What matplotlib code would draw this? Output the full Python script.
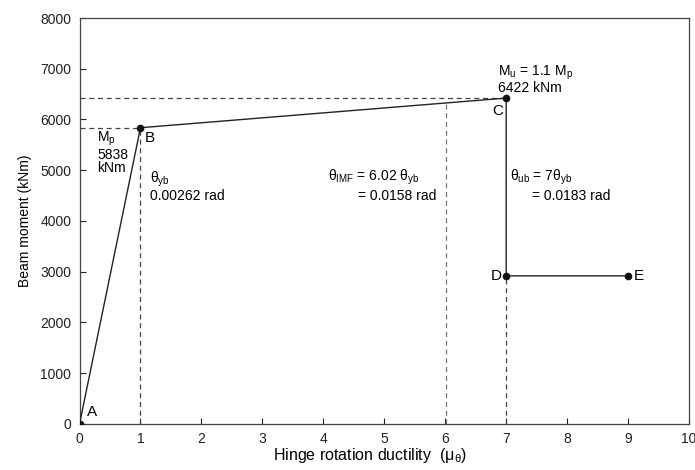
import matplotlib as mpl
mpl.use("Agg")
import matplotlib.pyplot as plt

plt.rcParams["font.family"] = ["Liberation Sans", "DejaVu Sans"]
plt.rcParams["font.size"] = 10
plt.rcParams["mathtext.fontset"] = "custom"
plt.rcParams["mathtext.rm"] = "Liberation Sans"
plt.rcParams["mathtext.it"] = "Liberation Serif:italic"

# backbone curve points A-B-C-D-E
pt_labels = ["A", "B", "C", "D", "E"]
ductility = [0, 1, 7, 7, 9]
moment = [0, 5838, 6422, 2919, 2919]

mu_imf = 6.02
moment_imf = 5838 + (6422 - 5838) * (mu_imf - 1) / 6

xticks = [0, 1, 2, 3, 4, 5, 6, 7, 8, 9, 10]
yticks = [0, 1000, 2000, 3000, 4000, 5000, 6000, 7000, 8000]

fig = plt.figure(figsize=(6.95, 4.7), dpi=100)
ax = fig.add_axes([0.1144, 0.0979, 0.8770, 0.8638])

dash = dict(color="#444444", lw=0.9, ls=(0, (4, 3)))
# dashed guides
ax.plot([0, ductility[1]], [moment[1], moment[1]], **dash)
ax.plot([0, ductility[2]], [moment[2], moment[2]], **dash)
ax.plot([ductility[1], ductility[1]], [0, moment[1]], **dash)
ax.plot([mu_imf, mu_imf], [0, moment_imf], color="#777777", lw=0.9, ls=(0, (4, 3)))
ax.plot([ductility[3], ductility[3]], [0, moment[3]], **dash)

ax.plot(ductility, moment, color="#222222", lw=1.0, zorder=3)
ax.plot(ductility, moment, "o", color="#111111", ms=4.5, zorder=4)

ax.set_xlim(0, 10)
ax.set_ylim(0, 8000)
ax.set_xticks(xticks)
ax.set_yticks(yticks)
ax.tick_params(direction="in", length=4, width=0.8, colors="#222222", pad=6)
for s in ax.spines.values():
    s.set_color("#444444")
    s.set_linewidth(0.9)

ax.set_xlabel("Hinge rotation ductility  (" + r"$\mathregular{\mu_\theta}$" + ")", fontsize=11.5)
ax.xaxis.set_label_coords(0.477, -0.055)
ax.set_ylabel("Beam moment (kNm)", labelpad=6)

# point letters
ax.text(0.12, 150, "A", fontsize=11)
ax.text(1.07, 5640, "B", fontsize=11, va="center")
ax.text(6.95, 6160, "C", fontsize=11, ha="right", va="center")
ax.text(6.93, 2919, "D", fontsize=11, ha="right", va="center")
ax.text(9.1, 2919, "E", fontsize=11, va="center")

# annotations
ax.text(0.29, 5790, r"M$\mathregular{_p}$" + "\n5838\nkNm", va="top", linespacing=0.93)
ax.text(1.15, 5020, r"$\mathregular{\theta_{yb}}$" + "\n0.00262 rad", va="top", linespacing=1.0)
ax.text(4.07, 5060, r"$\mathregular{\theta_{IMF}}$ = 6.02 $\mathregular{\theta_{yb}}$", va="top")
ax.text(5.86, 4640, "= 0.0158 rad", ha="right", va="top")
ax.text(7.07, 5060, r"$\mathregular{\theta_{ub}}$ = 7$\mathregular{\theta_{yb}}$", va="top")
ax.text(7.42, 4640, "= 0.0183 rad", va="top")
ax.text(6.86, 7100, r"M$\mathregular{_u}$ = 1.1 M$\mathregular{_p}$" + "\n6422 kNm", va="top", linespacing=0.9)

fig.savefig("out.png", dpi=100)
